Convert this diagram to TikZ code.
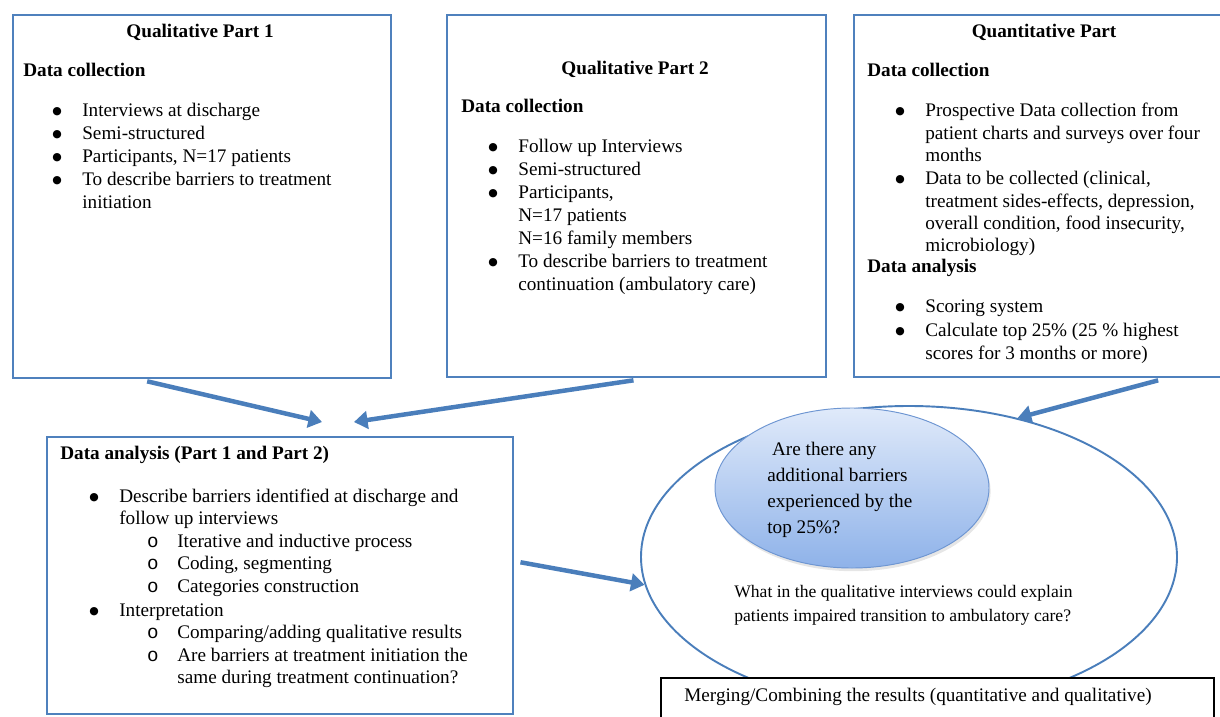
\documentclass[tikz,border=0pt]{standalone}
\usepackage{fontspec}
\setmainfont{Liberation Serif}
\setmonofont{Liberation Mono}
\newfontfamily\bulletfont{DejaVu Sans}
\usetikzlibrary{arrows.meta,shapes.geometric,shadows}
\definecolor{wordblue}{RGB}{79,129,189}
\definecolor{arrowblue}{RGB}{74,126,187}
\definecolor{bubbletop}{RGB}{224,234,250}
\definecolor{bubblebottom}{RGB}{142,178,233}
\definecolor{bubbleedge}{RGB}{110,150,210}
\def\px{0.625pt}
\tikzset{
partbox/.style = {draw = wordblue, line width = 1.5pt, fill = white, anchor = north west, inner sep = 0pt},
mergebox/.style = {draw = black, line width = 1.2pt, fill = white, anchor = north west, inner sep = 0pt},
flowarrow/.style = {draw = arrowblue, line width = 2.8pt, -{Triangle[width=11pt,length=8.5pt]}},
textline/.style = {anchor = west, inner sep = 0pt, text height = 8.6pt, text depth = 2.6pt},
heading/.style = {textline, font = \fontsize{12pt}{14.4pt}\selectfont\bfseries},
parttitle/.style = {heading, anchor = center},
dot/.style = {anchor = center, inner sep = 0pt, font = \bulletfont\fontsize{6.8pt}{7pt}\selectfont},
subdot/.style = {textline, anchor = center, font = \fontsize{12pt}{14.4pt}\selectfont\ttfamily},
bubble/.style = {ellipse, draw = bubbleedge, line width = 0.6pt, top color = bubbletop, bottom color = bubblebottom,
  drop shadow = {shadow xshift = 1pt, shadow yshift = -2pt, opacity = 0.2}}}

\begin{document}
\begin{tikzpicture}[x=\px, y=-\px, font=\fontsize{12pt}{14.4pt}\selectfont]
\useasboundingbox (0,0) rectangle (1220,717);
%
%----------------------------------------------------------------------------------
% three boxes on top
%
\node[partbox, minimum width=378*\px, minimum height=363*\px] (qualone) at (12,14) {};
\node[partbox, minimum width=379*\px, minimum height=362*\px] (qualtwo) at (446,14) {};
\node[partbox, minimum width=373*\px, minimum height=362*\px] (quant) at (853,14) {};
%
% qualitative part 1
\node[parttitle] (qualonetitle) at (200,33) {Qualitative Part 1};
\node[heading] (qualonehead) at (23,72) {Data collection};
\foreach \yy in {112,135,158,181}
  \node[dot] (qualonedot\yy) at (57,\yy) {●};
\foreach \yy/\txt in {112/Interviews at discharge, 135/Semi-structured, 158/{Participants, N=17 patients},
  181/To describe barriers to treatment, 204/initiation}
  \node[textline] (qualoneline\yy) at (82,\yy) {\txt};
%
% qualitative part 2
\node[parttitle] (qualtwotitle) at (635,70) {Qualitative Part 2};
\node[heading] (qualtwohead) at (461,108) {Data collection};
\foreach \yy in {148,171,194,263}
  \node[dot] (qualtwodot\yy) at (493,\yy) {●};
\foreach \yy/\txt in {148/Follow up Interviews, 171/Semi-structured, 194/{Participants,}, 217/N=17 patients,
  240/N=16 family members, 263/To describe barriers to treatment, 286/continuation (ambulatory care)}
  \node[textline] (qualtwoline\yy) at (518,\yy) {\txt};
%
% quantitative part
\node[parttitle] (quanttitle) at (1044,33) {Quantitative Part};
\node[heading] (quanthead) at (867,72) {Data collection};
\node[heading] (quantanalysis) at (867,268) {Data analysis};
\foreach \yy in {112,180,308,332}
  \node[dot] (quantdot\yy) at (900,\yy) {●};
\foreach \yy/\txt in {112/Prospective Data collection from, 135/patient charts and surveys over four, 157/months,
  180/{Data to be collected (clinical,}, 203/{treatment sides-effects, depression,}, 225/{overall condition, food insecurity,},
  247/microbiology), 308/Scoring system, 332/Calculate top 25\% (25 \% highest, 355/scores for 3 months or more)}
  \node[textline] (quantline\yy) at (925,\yy) {\txt};
%----------------------------------------------------------------------------------
%
%----------------------------------------------------------------------------------
% analysis of part 1 and part 2
%
\node[partbox, minimum width=466*\px, minimum height=277*\px] (analysis) at (46,436) {};
\node[heading] (analysishead) at (60,455) {Data analysis (Part 1 and Part 2)};
\foreach \yy in {498,612}
  \node[dot] (analysisdot\yy) at (94,\yy) {●};
\foreach \yy/\txt in {498/Describe barriers identified at discharge and, 520/follow up interviews, 612/Interpretation}
  \node[textline] (analysisline\yy) at (119,\yy) {\txt};
\foreach \yy in {543,565,588,634,657}
  \node[subdot] (analysissub\yy) at (153,\yy) {o};
\foreach \yy/\txt in {543/Iterative and inductive process, 565/{Coding, segmenting}, 588/Categories construction,
  634/{Comparing/adding qualitative results}, 657/Are barriers at treatment initiation the, 679/same during treatment continuation?}
  \node[textline] (analysissubline\yy) at (177,\yy) {\txt};
%----------------------------------------------------------------------------------
%
%----------------------------------------------------------------------------------
% merging ellipse
%
\node[ellipse, draw=arrowblue, line width=1.2pt, minimum width=536*\px, minimum height=302*\px, inner sep=0pt] (mix) at (909,557) {};
\node[bubble, minimum width=274*\px, minimum height=160*\px, inner sep=0pt] (topquarter) at (852,488) {};
\node[anchor=west, align=left, inner sep=0pt, font=\fontsize{12pt}{16.3pt}\selectfont] (topquartertext) at (767,490)
  {\hspace*{3pt}Are there any\\additional barriers\\experienced by the\\top 25\%?};
\node[anchor=west, align=left, inner sep=0pt, font=\fontsize{11pt}{15pt}\selectfont] (mixtext) at (734,605)
  {What in the qualitative interviews could explain\\patients impaired transition to ambulatory care?};
%
% merging box
\node[mergebox, minimum width=553*\px, minimum height=70*\px] (merge) at (660,677) {};
\node[textline, anchor=center] (mergetext) at (918,697) {Merging/Combining the results (quantitative and qualitative)};
%----------------------------------------------------------------------------------
%
% arrows
\coordinate (intoanalysisa) at (322,422);
\coordinate (intoanalysisb) at (354,422);
\draw[flowarrow] ([xshift=-34.4pt,yshift=-1.2pt]qualone.south) -- (intoanalysisa);
\draw[flowarrow] ([xshift=-2pt,yshift=-1.2pt]qualtwo.south) -- (intoanalysisb);
\draw[flowarrow] ([xshift=73.4pt,yshift=-1.2pt]quant.south) -- (mix.52);
\draw[flowarrow] ([xshift=3.8pt,yshift=8.4pt]analysis.east) -- (mix.186);
%
\end{tikzpicture}
\end{document}
